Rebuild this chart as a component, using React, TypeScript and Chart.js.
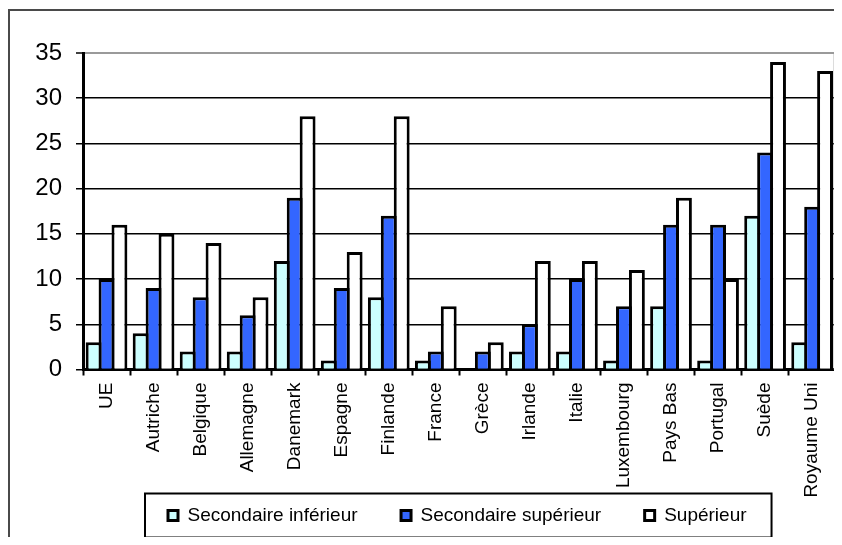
import React, { useEffect, useRef } from 'react';
import { Chart, registerables } from 'chart.js';

Chart.register(...registerables);

const categories = [
  'UE', 'Autriche', 'Belgique', 'Allemagne', 'Danemark', 'Espagne', 'Finlande', 'France',
  'Grèce', 'Irlande', 'Italie', 'Luxembourg', 'Pays Bas', 'Portugal', 'Suède', 'Royaume Uni',
];
const secondaireInferieur = [3, 4, 2, 2, 12, 1, 8, 1, 0, 2, 2, 1, 7, 1, 17, 3];
const secondaireSuperieur = [10, 9, 8, 6, 19, 9, 17, 2, 2, 5, 10, 7, 16, 16, 24, 18];
const superieur = [16, 15, 14, 8, 28, 13, 28, 7, 3, 12, 12, 11, 19, 10, 34, 33];
const seriesLabels = ['Secondaire inférieur', 'Secondaire supérieur', 'Supérieur'];
const seriesColors = ['#CCFFFF', '#3366FF', '#FFFFFF'];
const yTicks = [0, 5, 10, 15, 20, 25, 30, 35];

const FONT = "'Liberation Sans', Arial, sans-serif";
const W = 834;
const H = 570;
const VIEW_H = 529;
const LEGEND_PAD = 43.5;

const framePlugin = {
  id: 'excelFrame',
  afterLayout(chart: any) {
    const lg = chart.legend;
    if (!lg || !lg.lineWidths) return;
    const x0 = 160;
    const total = lg.lineWidths[0];
    lg.left = 0;
    lg.right = 2 * x0 - LEGEND_PAD + total;
    lg.top = 498 - LEGEND_PAD;
    lg.bottom = lg.top + 80;
  },
  afterDraw(chart: any) {
    const ctx = chart.ctx;
    const area = chart.chartArea;
    ctx.save();
    // outer frame (left & top)
    ctx.strokeStyle = '#4a4a4a';
    ctx.lineWidth = 2;
    ctx.beginPath();
    ctx.moveTo(1, H);
    ctx.lineTo(1, 2);
    ctx.lineTo(W, 2);
    ctx.stroke();
    // plot area right border
    ctx.strokeStyle = '#9a9a9a';
    ctx.lineWidth = 2;
    ctx.beginPath();
    ctx.moveTo(area.right - 1, area.top);
    ctx.lineTo(area.right - 1, area.bottom);
    ctx.stroke();
    // legend border
    const lg = chart.legend;
    if (lg && lg.legendHitBoxes && lg.legendHitBoxes.length) {
      const hb = lg.legendHitBoxes;
      const first = hb[0];
      const last = hb[hb.length - 1];
      const cy = first.top + first.height / 2;
      const left = first.left - 23;
      const right = last.left + last.width + 25;
      ctx.strokeStyle = '#000';
      ctx.lineWidth = 2;
      ctx.strokeRect(left, cy - 22, right - left, 44);
    }
    ctx.restore();
  },
};

export default function App() {
  const ref = useRef<HTMLCanvasElement>(null);

  useEffect(() => {
    document.documentElement.style.overflow = 'hidden';
    document.body.style.overflow = 'hidden';
    const canvas = ref.current;
    if (!canvas) return;
    const seriesData = [secondaireInferieur, secondaireSuperieur, superieur];
    const chart = new Chart(canvas, {
      type: 'bar',
      data: {
        labels: categories,
        datasets: seriesData.map((d, i) => ({
          label: seriesLabels[i],
          data: d,
          backgroundColor: seriesColors[i],
          borderColor: '#000',
          borderWidth: 3,
          categoryPercentage: 0.824,
          barPercentage: 1.23,
        })),
      },
      options: {
        responsive: false,
        animation: false,
        devicePixelRatio: 1,
        layout: { padding: { top: 45, right: 2, left: 0, bottom: 0 } },
        plugins: {
          legend: {
            position: 'bottom',
            labels: {
              font: { size: 19, family: FONT },
              color: '#000',
              boxWidth: 10,
              boxHeight: 10,
              padding: LEGEND_PAD,
            },
          },
          tooltip: { enabled: false },
        },
        scales: {
          x: {
            offset: true,
            grid: {
              offset: true,
              drawOnChartArea: false,
              drawTicks: true,
              tickLength: 6,
              tickColor: '#000',
              tickWidth: 2,
            },
            border: { color: '#000', width: 3 },
            ticks: {
              autoSkip: false,
              minRotation: 90,
              maxRotation: 90,
              padding: 7,
              color: '#000',
              font: { size: 19, family: FONT },
            },
            afterFit: (s: any) => {
              s.height = 136;
            },
          },
          y: {
            min: 0,
            max: 35,
            afterBuildTicks: (s: any) => {
              s.ticks = yTicks.map((v) => ({ value: v }));
            },
            ticks: {
              padding: 14,
              color: '#000',
              font: { size: 24, family: FONT },
            },
            grid: {
              color: (c: any) => (c.tick && c.tick.value === 35 ? '#9a9a9a' : '#000'),
              lineWidth: (c: any) => (c.tick && c.tick.value === 35 ? 2 : 1.5),
              tickLength: 7,
              tickColor: '#000',
              tickWidth: 1.5,
            },
            border: { color: '#000', width: 3 },
            afterFit: (s: any) => {
              s.width = 75;
            },
          },
        },
      },
      plugins: [framePlugin],
    } as any);
    return () => chart.destroy();
  }, []);

  return (
    <div style={{ width: W, height: VIEW_H, overflow: 'hidden' }}>
      <canvas ref={ref} width={W} height={H} style={{ display: 'block' }} />
    </div>
  );
}
